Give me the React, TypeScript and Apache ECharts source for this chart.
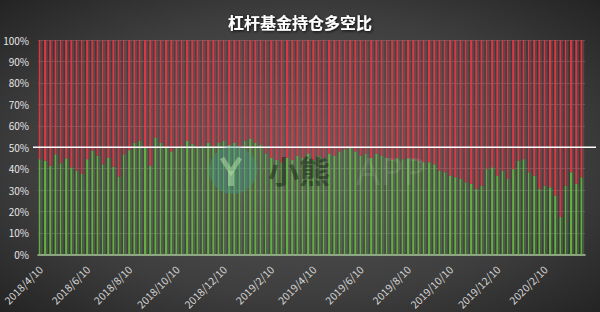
import React, { useEffect, useRef } from "react";
import * as echarts from "echarts";

// Weekly observations, first week starting 2018/4/10
const firstWeek = [2018, 4, 10];
const weekCount = 104;

// Labelled dates on the horizontal axis (every two months)
const tickLabels = [
  "2018/4/10", "2018/6/10", "2018/8/10", "2018/10/10", "2018/12/10",
  "2019/2/10", "2019/4/10", "2019/6/10", "2019/8/10", "2019/10/10",
  "2019/12/10", "2020/2/10",
];

// Long share of leveraged fund positions (%), one value per week
const longPct = [
  44.4, 43.7, 41.4, 46.7, 42.5, 44.8, 40.6, 39.0, 37.5, 44.4,
  48.3, 46.0, 42.0, 45.0, 40.8, 36.3, 46.7, 48.6, 52.0, 53.0,
  50.0, 41.4, 54.5, 52.0, 50.0, 48.0, 50.0, 50.6, 53.0, 51.4,
  50.0, 50.6, 52.0, 50.6, 52.0, 53.0, 51.0, 52.0, 50.0, 53.0,
  54.0, 52.0, 51.0, 47.0, 45.0, 44.0, 43.0, 45.0, 44.0, 46.0,
  45.0, 47.0, 44.0, 46.0, 45.0, 47.0, 46.0, 48.0, 49.0, 50.0,
  48.0, 46.0, 47.0, 45.0, 47.0, 46.0, 45.0, 44.0, 45.0, 44.4,
  44.8, 44.4, 43.7, 43.0, 43.0, 42.0, 39.0, 38.3, 36.7, 36.0,
  35.2, 33.6, 32.9, 30.6, 32.0, 39.8, 40.6, 36.7, 39.0, 35.2,
  39.8, 43.7, 44.4, 38.3, 36.7, 30.6, 32.0, 31.3, 27.5, 17.4,
  32.0, 38.3, 32.9, 36.0,
];

// Short share is the remainder of each week's 100%
const shortPct = longPct.map((v) => Math.round((100 - v) * 10) / 10);

const DAY = 24 * 3600 * 1000;
const fmt = (d: Date) => `${d.getFullYear()}/${d.getMonth() + 1}/${d.getDate()}`;
const parse = (s: string) => {
  const [y, m, d] = s.split("/").map(Number);
  return new Date(y, m - 1, d);
};

const startDate = new Date(firstWeek[0], firstWeek[1] - 1, firstWeek[2]);
const weeks: string[] = Array.from({ length: weekCount }, (_, i) =>
  fmt(new Date(startDate.getTime() + i * 7 * DAY))
);

// Place each labelled date on its nearest weekly category
const labelAt: Record<number, string> = {};
tickLabels.forEach((t) => {
  const idx = Math.round((parse(t).getTime() - startDate.getTime()) / DAY / 7);
  if (idx >= 0 && idx < weekCount) labelAt[idx] = t;
});

// Bars: a bright left edge and a dim, translucent remainder
const split = (bright: string, dim: string) =>
  new echarts.graphic.LinearGradient(0, 0, 1, 0, [
    { offset: 0, color: bright },
    { offset: 0.42, color: bright },
    { offset: 0.42, color: dim },
    { offset: 1, color: dim },
  ]);

const FONT = "'Noto Sans CJK SC', 'Noto Sans', sans-serif";

export default function App() {
  const ref = useRef<HTMLDivElement>(null);

  useEffect(() => {
    document.body.style.margin = "0";
    const chart = echarts.init(ref.current!, null, { renderer: "svg" });

    const option: any = {
      animation: false,
      title: {
        text: "杠杆基金持仓多空比",
        left: "center",
        top: 9,
        textStyle: {
          color: "#ffffff",
          fontSize: 16,
          fontWeight: "bold",
          fontFamily: FONT,
          textShadowColor: "rgba(0,0,0,0.85)",
          textShadowBlur: 3,
          textShadowOffsetX: 1,
          textShadowOffsetY: 1,
        },
      },
      grid: { left: 38, right: 15, top: 40, bottom: 56 },
      xAxis: {
        type: "category",
        data: weeks,
        boundaryGap: true,
        axisLine: { show: true, lineStyle: { color: "#a9c49c", width: 1.5 } },
        axisTick: { show: false },
        axisLabel: {
          interval: (i: number) => labelAt[i] !== undefined,
          formatter: (_v: string, i: number) => labelAt[i] ?? "",
          rotate: 45,
          margin: 13,
          color: "#d6d6d6",
          fontSize: 10.5,
          fontFamily: FONT,
        },
        splitLine: { show: false },
      },
      yAxis: {
        type: "value",
        min: 0,
        max: 100,
        interval: 10,
        axisLine: { show: false },
        axisTick: { show: false },
        axisLabel: {
          formatter: "{value}%",
          color: "#e6e6e6",
          fontSize: 10,
          margin: 9,
          fontFamily: FONT,
        },
        splitLine: { lineStyle: { color: "rgba(255,255,255,0.16)", width: 1 } },
      },
      series: [
        {
          name: "多头",
          type: "bar",
          stack: "share",
          barCategoryGap: "30%",
          data: longPct,
          itemStyle: { color: split("rgba(100,180,64,0.95)", "rgba(100,150,80,0.38)") },
        },
        {
          name: "空头",
          type: "bar",
          stack: "share",
          barCategoryGap: "30%",
          data: shortPct,
          itemStyle: { color: split("rgba(226,56,68,0.95)", "rgba(190,70,80,0.4)") },
        },
      ],
      graphic: [
        {
          id: "bg",
          type: "rect",
          z: -100,
          silent: true,
          shape: { x: 0, y: 0, width: 600, height: 312 },
          style: {
            fill: new echarts.graphic.RadialGradient(0.5, 0.5, 0.75, [
              { offset: 0, color: "#5a5a5a" },
              { offset: 0.6, color: "#3e3e3e" },
              { offset: 1, color: "#1f1f1f" },
            ]),
          },
        },
      ],
    };

    chart.setOption(option);

    // Overlays placed from the axis scale: the 50% line and the watermark
    const y50 = chart.convertToPixel({ yAxisIndex: 0 }, 50) as number;
    chart.setOption({
      graphic: [
        { id: "bg" },
        {
          id: "half",
          type: "line",
          z: 100,
          silent: true,
          shape: { x1: 33, y1: y50, x2: 596, y2: y50 },
          style: { stroke: "#ffffff", lineWidth: 1.5 },
        },
        {
          id: "logo",
          type: "circle",
          z: 100,
          silent: true,
          shape: { cx: 233, cy: 170, r: 24 },
          style: { fill: "rgba(70,150,140,0.38)" },
        },
        {
          id: "logoY",
          type: "polyline",
          z: 101,
          silent: true,
          shape: { points: [[222, 158], [231, 172], [240, 158]] },
          style: { stroke: "rgba(175,220,160,0.55)", lineWidth: 5, fill: "none" },
        },
        {
          id: "logoStem",
          type: "line",
          z: 101,
          silent: true,
          shape: { x1: 231, y1: 171, x2: 231, y2: 186 },
          style: { stroke: "rgba(175,220,160,0.55)", lineWidth: 6 },
        },
        {
          id: "wmName",
          type: "text",
          z: 101,
          silent: true,
          x: 268,
          y: 154,
          style: {
            text: "小熊",
            fontSize: 31,
            fontWeight: "bold",
            fontFamily: FONT,
            fill: "rgba(20,35,20,0.5)",
          },
        },
        {
          id: "wmApp",
          type: "text",
          z: 101,
          silent: true,
          x: 356,
          y: 151,
          style: {
            text: "APP",
            fontSize: 38,
            fontFamily: "'Noto Sans', sans-serif",
            fill: "rgba(255,255,255,0.1)",
          },
        },
      ],
    });

    return () => chart.dispose();
  }, []);

  return <div ref={ref} style={{ width: 600, height: 312 }} />;
}
